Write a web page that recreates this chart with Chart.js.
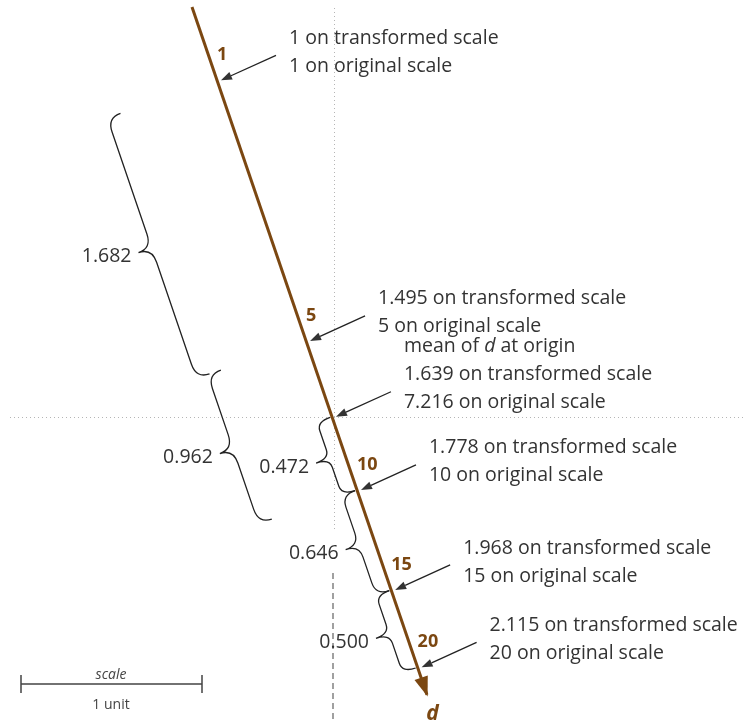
<!DOCTYPE html>
<html>
<head>
<meta charset="utf-8">
<script src="https://cdn.jsdelivr.net/npm/chart.js@4.4.1/dist/chart.umd.min.js"></script>
<style>
  html, body { margin: 0; padding: 0; background: #fff; }
</style>
</head>
<body>
<canvas id="scaleChart" width="746" height="721"></canvas>
<script>
// === data ===
const originalValues    = [1, 5, 7.216, 10, 15, 20];
const transformedValues = [1, 1.495, 1.639, 1.778, 1.968, 2.115];
const tickLabels        = ['1', '5', '', '10', '15', '20'];
const meanIndex         = 2;   // 7.216 = mean of d at origin

// braces between points on the transformed scale, and their lengths
const braceFrom   = [1, 1.495, 1.639, 1.778, 1.968];
const braceTo     = [1.495, 1.778, 1.778, 1.968, 2.115];
const braceLabels = ['1.682', '0.962', '0.472', '0.646', '0.500'];

// === layout ===
const T_TOP = 0.8475, T_BOTTOM = 2.2169;     // y range of the canvas
const AXIS_FROM = 0.861, AXIS_TO = 2.167;    // extent of the d arrow
const axisX = t => 217 + 179.9 * (t - 1);    // slanted axis, x in px
const braceOffset = [102, 90, 2, 2, 2];

const BROWN = '#7b4711';
const INK   = '#333';
const FONT  = '"Open Sans", "Noto Sans", sans-serif';

function arrow(ctx, x1, y1, x2, y2) {
  const dx = x2 - x1, dy = y2 - y1, len = Math.hypot(dx, dy);
  const ux = dx / len, uy = dy / len, head = 11, half = 4;
  ctx.beginPath();
  ctx.moveTo(x1, y1);
  ctx.lineTo(x2 - ux * head, y2 - uy * head);
  ctx.stroke();
  ctx.beginPath();
  ctx.moveTo(x2, y2);
  ctx.lineTo(x2 - ux * head - uy * half, y2 - uy * head + ux * half);
  ctx.lineTo(x2 - ux * head + uy * half, y2 - uy * head - ux * half);
  ctx.closePath();
  ctx.fill();
}

function brace(ctx, p1, p2, n) {
  const L = Math.hypot(p2.x - p1.x, p2.y - p1.y);
  const u = { x: (p2.x - p1.x) / L, y: (p2.y - p1.y) / L };
  const h = 14, D = 28, r = Math.min(15, L * 0.12);
  const P = (a, b) => [p1.x + u.x * a + n.x * b, p1.y + u.y * a + n.y * b];
  ctx.beginPath();
  ctx.moveTo(...P(0, 0));
  ctx.quadraticCurveTo(...P(0, h), ...P(r, h));
  ctx.lineTo(...P(L / 2 - r, h));
  ctx.quadraticCurveTo(...P(L / 2, h), ...P(L / 2, D));
  ctx.quadraticCurveTo(...P(L / 2, h), ...P(L / 2 + r, h));
  ctx.lineTo(...P(L - r, h));
  ctx.quadraticCurveTo(...P(L, h), ...P(L, 0));
  ctx.stroke();
  const tip = P(L / 2, D);
  return { x: tip[0], y: tip[1] };
}

const diagram = {
  id: 'diagram',
  beforeDatasetsDraw(chart) {
    const { ctx, scales: { x, y } } = chart;
    const cx = x.getPixelForValue(axisX(transformedValues[meanIndex])) + 2;
    const cy = Math.round(y.getPixelForValue(transformedValues[meanIndex])) + 0.5;
    ctx.save();
    ctx.strokeStyle = '#b5b5b5';
    ctx.lineWidth = 1;
    ctx.setLineDash([1, 3]);
    ctx.beginPath();
    ctx.moveTo(10, cy); ctx.lineTo(746, cy);
    ctx.moveTo(Math.round(cx) + 0.5, 8); ctx.lineTo(Math.round(cx) + 0.5, 530);
    ctx.stroke();
    ctx.strokeStyle = '#a0a0a0';
    ctx.lineWidth = 2;
    ctx.setLineDash([6, 4]);
    ctx.beginPath();
    ctx.moveTo(Math.round(cx) - 1, 573); ctx.lineTo(Math.round(cx) - 1, 721);
    ctx.stroke();
    ctx.restore();
  },
  afterDatasetsDraw(chart) {
    const { ctx, scales: { x, y } } = chart;
    const pt = t => ({ x: x.getPixelForValue(axisX(t)), y: y.getPixelForValue(t) });
    const a = pt(AXIS_FROM), b = pt(AXIS_TO);
    const len = Math.hypot(b.x - a.x, b.y - a.y);
    const u = { x: (b.x - a.x) / len, y: (b.y - a.y) / len };
    const n = { x: -u.y, y: u.x };

    ctx.save();
    // arrow head of the d axis
    ctx.fillStyle = BROWN;
    const tip = { x: b.x + u.x * 2, y: b.y + u.y * 2 };
    ctx.beginPath();
    ctx.moveTo(tip.x, tip.y);
    ctx.lineTo(tip.x - u.x * 20 + n.x * 7, tip.y - u.y * 20 + n.y * 7);
    ctx.lineTo(tip.x - u.x * 20 - n.x * 7, tip.y - u.y * 20 - n.y * 7);
    ctx.closePath();
    ctx.fill();
    ctx.font = 'italic bold 21px ' + FONT;
    ctx.textAlign = 'center';
    ctx.textBaseline = 'middle';
    ctx.fillText('d', tip.x + 5, tip.y + 17);

    // tick labels on the axis
    ctx.font = 'bold 18px ' + FONT;
    ctx.textAlign = 'left';
    transformedValues.forEach((t, i) => {
      if (!tickLabels[i]) return;
      const p = pt(t);
      ctx.fillText(tickLabels[i], p.x, p.y - 25);
    });

    // callouts
    ctx.font = '19.5px ' + FONT;
    ctx.fillStyle = INK;
    ctx.strokeStyle = '#222';
    ctx.lineWidth = 1.3;
    transformedValues.forEach((t, i) => {
      const p = pt(t);
      const lines = [t + ' on transformed scale', originalValues[i] + ' on original scale'];
      const tx = p.x + 72;
      lines.forEach((s, k) => ctx.fillText(s, tx, p.y - 14 - 28 * (lines.length - 1 - k)));
      if (i === meanIndex) {
        let lx = tx, ly = p.y - 70;
        ctx.fillText('mean of ', lx, ly);
        lx += ctx.measureText('mean of ').width;
        ctx.font = 'italic 19.5px ' + FONT;
        ctx.fillText('d', lx, ly);
        lx += ctx.measureText('d').width;
        ctx.font = '19.5px ' + FONT;
        ctx.fillText(' at origin', lx, ly);
      }
      arrow(ctx, p.x + 59, p.y - 25, p.x + 4, p.y);
    });

    // braces with their lengths
    ctx.lineWidth = 1.3;
    ctx.textAlign = 'right';
    braceLabels.forEach((label, i) => {
      const p1 = pt(braceFrom[i]), p2 = pt(braceTo[i]);
      const d = braceOffset[i];
      const q = brace(ctx,
        { x: p1.x + n.x * d, y: p1.y + n.y * d },
        { x: p2.x + n.x * d, y: p2.y + n.y * d }, n);
      ctx.fillText(label, q.x - 7, q.y + 4);
    });

    // scale bar
    ctx.strokeStyle = '#444';
    ctx.lineWidth = 1.5;
    ctx.beginPath();
    ctx.moveTo(21, 684); ctx.lineTo(202, 684);
    ctx.moveTo(21, 675); ctx.lineTo(21, 693);
    ctx.moveTo(202, 675); ctx.lineTo(202, 693);
    ctx.stroke();
    ctx.textAlign = 'center';
    ctx.fillStyle = '#444';
    ctx.font = 'italic 14px ' + FONT;
    ctx.fillText('scale', 111, 675);
    ctx.font = '14px ' + FONT;
    ctx.fillText('1 unit', 111, 705);
    ctx.restore();
  }
};

new Chart(document.getElementById('scaleChart'), {
  type: 'scatter',
  data: {
    datasets: [{
      label: 'd',
      data: [AXIS_FROM, AXIS_TO].map(t => ({ x: axisX(t), y: t })),
      showLine: true,
      borderColor: BROWN,
      borderWidth: 3,
      pointRadius: 0
    }, {
      label: 'values',
      data: transformedValues.map(t => ({ x: axisX(t), y: t })),
      pointRadius: 0
    }]
  },
  plugins: [diagram],
  options: {
    responsive: false,
    animation: false,
    layout: { padding: 0 },
    plugins: { legend: { display: false }, tooltip: { enabled: false } },
    scales: {
      x: { type: 'linear', min: 0, max: 746, display: false },
      y: { type: 'linear', min: T_TOP, max: T_BOTTOM, reverse: true, display: false }
    }
  }
});
</script>
</body>
</html>
